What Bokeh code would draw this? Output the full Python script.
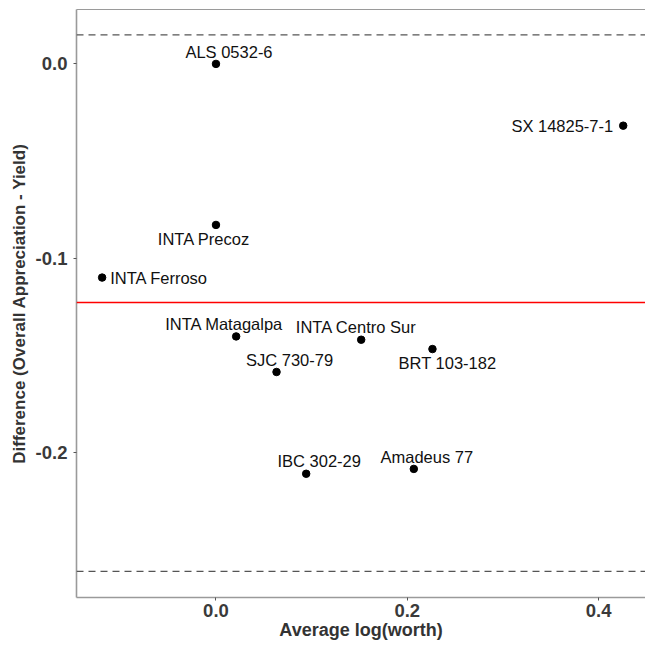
from bokeh.plotting import figure
from bokeh.models import ColumnDataSource, Span, FixedTicker, LinearAxis, Range1d
from bokeh.embed import file_html
from bokeh.resources import INLINE
from bokeh.core.properties import value

# ---- data ----
varieties = ["ALS 0532-6", "SX 14825-7-1", "INTA Precoz", "INTA Ferroso",
             "INTA Matagalpa", "INTA Centro Sur", "BRT 103-182", "SJC 730-79",
             "IBC 302-29", "Amadeus 77"]
avg_logworth = [0.000, 0.4257, 0.000, -0.119, 0.0211, 0.1518, 0.2263, 0.0633, 0.0943, 0.2068]
difference = [0.000, -0.0318, -0.0829, -0.110, -0.1403, -0.1420, -0.1468, -0.1586, -0.2110, -0.2085]
mean_difference = -0.1228
upper_limit = 0.0149
lower_limit = -0.2613

x_ticks = [0.0, 0.2, 0.4]
x_tick_labels = ["0.0", "0.2", "0.4"]
y_ticks = [0.0, -0.1, -0.2]
y_tick_labels = ["0.0", "-0.1", "-0.2"]

# label nudges (screen pixels) and alignment
label_dx = [13, -10, -12, 8, -12, -5, 15, 13, 13, 13]
label_dy = [-12, 0, 14, 0, -12, -13, 14, -12, -13, -12]
label_align = ["center", "right", "center", "left", "center", "center",
               "center", "center", "center", "center"]

src = ColumnDataSource(dict(x=avg_logworth, y=difference, name=varieties,
                            dx=label_dx, dy=label_dy, align=label_align))

p = figure(width=645, height=646, output_backend="svg", toolbar_location=None,
           x_range=Range1d(-0.1458, 0.449), y_range=Range1d(-0.2747, 0.028),
           min_border_left=76, min_border_right=0, min_border_top=9, min_border_bottom=49)
p.background_fill_color = "white"
p.border_fill_color = "white"
p.outline_line_color = None
p.xgrid.visible = False
p.ygrid.visible = False

# reference lines
for loc in [upper_limit, lower_limit]:
    p.add_layout(Span(location=loc, dimension="width", line_color="#555555",
                      line_dash="7 5", line_width=1.3))
p.add_layout(Span(location=mean_difference, dimension="width", line_color="#ff0000",
                  line_width=1.5))

p.scatter("x", "y", source=src, size=7.5, color="black")
p.text("x", "y", text="name", source=src, x_offset="dx", y_offset="dy",
       text_align="align", text_baseline="middle",
       text_font=value("Liberation Sans"), text_font_size="16.5px", text_color="#111111")

axis_color = "#9a9a9a"
for ax in [p.xaxis[0], p.yaxis[0]]:
    ax.axis_line_color = axis_color
    ax.axis_line_width = 1.6
    ax.major_tick_line_color = "#555555"
    ax.major_tick_out = 3
    ax.major_tick_in = 0
    ax.minor_tick_line_color = None
    ax.major_label_text_font = "Liberation Sans"
    ax.major_label_text_font_style = "bold"
    ax.major_label_text_font_size = "18.5px"
    ax.major_label_text_color = "#3a3a3a"
    ax.axis_label_text_font = "Liberation Sans"
    ax.axis_label_text_font_style = "bold"
    ax.axis_label_text_color = "#333333"

p.xaxis[0].ticker = FixedTicker(ticks=x_ticks)
p.xaxis[0].major_label_overrides = dict(zip(x_ticks, x_tick_labels))
p.yaxis[0].ticker = FixedTicker(ticks=y_ticks)
p.yaxis[0].major_label_overrides = dict(zip(y_ticks, y_tick_labels))

p.xaxis[0].axis_label = "Average log(worth)"
p.xaxis[0].axis_label_text_font_size = "18px"
p.xaxis[0].major_label_standoff = 3
p.xaxis[0].axis_label_standoff = 0

p.yaxis[0].axis_label = "Difference (Overall Appreciation - Yield)"
p.yaxis[0].axis_label_text_font_size = "17px"
p.yaxis[0].major_label_standoff = 6
p.yaxis[0].axis_label_standoff = 4

top = LinearAxis(ticker=FixedTicker(ticks=[]), major_label_text_font_size="0px",
                 axis_line_color=axis_color, axis_line_width=1.2,
                 major_tick_line_color=None, minor_tick_line_color=None)
p.add_layout(top, "above")

open("out.html", "w").write(file_html(p, INLINE))
